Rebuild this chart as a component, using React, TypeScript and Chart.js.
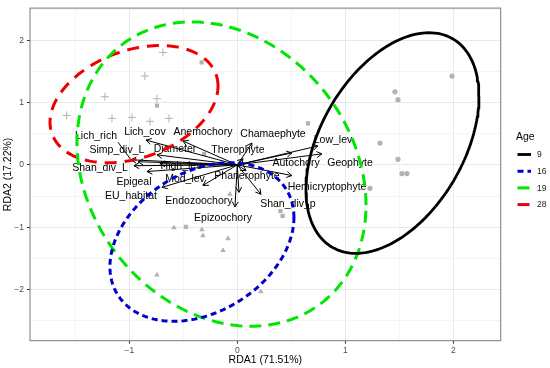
import React, { useEffect, useRef } from "react";
import { Chart, registerables } from "chart.js";

Chart.register(...registerables);

const FONT = "'Liberation Sans', Arial, Helvetica, sans-serif";

// ---- Site scores (points) by age group ----
const age9X = [1.988, 1.46, 1.488, 1.321, 1.488, 1.525, 1.571, 1.229];
const age9Y = [1.426, 1.173, 1.047, 0.351, 0.09, -0.139, -0.139, -0.376];
const age16X = [-0.586, -0.327, -0.318, -0.086, -0.132, -0.744, 0.219, -0.068];
const age16Y = [-1.008, -1.04, -1.135, -1.182, -1.372, -1.767, -2.035, -0.471];
const age19X = [0.655, -0.743, -0.33, -0.475, 0.4, 0.42, -0.306];
const age19Y = [0.667, 0.952, 1.647, -0.993, -0.74, -0.82, 0.177];
const age28X = [-0.688, -0.855, -1.225, -0.744, -1.58, -1.16, -0.975, -0.808, -0.632];
const age28Y = [1.805, 1.426, 1.094, 1.062, 0.794, 0.747, 0.763, 0.699, 0.747];

// ---- Confidence ellipses per age group (centre + shape matrix, data units) ----
const ageLabels = ["9", "16", "19", "28"];
const ellipseCx = [1.437, -0.327, -0.146, -0.956];
const ellipseCy = [0.351, -1.238, -0.147, 0.9755];
const ellipseSxx = [0.6415, 0.7257, 1.79, 0.6049];
const ellipseSyy = [3.1355, 1.62, 5.967, 0.885];
const ellipseSxy = [0.6002, 0.3358, -0.6673, 0.2265];

// ---- Variable arrows (biplot) ----
const varNames = [
  "Lich_rich", "Lich_cov", "Simp_div_L", "Shan_div_L", "Epigeal", "Diameter",
  "Anemochory", "High_lev", "Mod_lev", "EU_habitat", "Phanerophyte", "Endozoochory",
  "Epizoochory", "Shan_div_p", "Hemicryptophyte", "Autochory", "Geophyte", "Low_lev",
  "Chamaephyte", "Therophyte",
];
const varX = [-0.984, -0.845, -0.919, -0.956, -0.836, -0.743, -0.503, -0.716, -0.318, -0.697,
  0.081, 0.016, -0.021, 0.219, 0.506, 0.506, 0.784, 0.747, 0.136, 0.053];
const varY = [0.082, 0.398, 0.051, -0.013, -0.107, 0.161, 0.383, 0.019, -0.329, -0.36,
  -0.092, -0.44, -0.675, -0.471, -0.171, 0.193, 0.177, 0.304, 0.351, 0.098];
const labelX = [-1.308, -0.855, -1.114, -1.271, -0.956, -0.577, -0.318, -0.521, -0.484, -0.984,
  0.09, -0.355, -0.132, 0.469, 0.831, 0.544, 1.044, 0.886, 0.331, 0.006];
const labelY = [0.46, 0.525, 0.24, -0.044, -0.281, 0.256, 0.525, -0.013, -0.234, -0.503,
  -0.187, -0.582, -0.85, -0.629, -0.36, 0.035, 0.035, 0.398, 0.493, 0.24];

const xTitle = "RDA1 (71.51%)";
const yTitle = "RDA2 (17.22%)";
const legendTitle = "Age";

const toPts = (xs: number[], ys: number[]) => xs.map((x, i) => ({ x, y: ys[i] }));

function ellipsePoints(i: number) {
  const a = Math.sqrt(ellipseSxx[i]);
  const c = ellipseSxy[i] / a;
  const b = Math.sqrt(ellipseSyy[i] - c * c);
  const pts = [];
  const n = 160;
  for (let k = 0; k <= n; k++) {
    const t = (k / n) * Math.PI * 2;
    pts.push({ x: ellipseCx[i] + a * Math.cos(t), y: ellipseCy[i] + c * Math.cos(t) + b * Math.sin(t) });
  }
  return pts;
}

function arrowData() {
  const pts: any[] = [];
  varX.forEach((x, i) => {
    pts.push({ x: 0, y: 0 });
    pts.push({ x, y: varY[i] });
    pts.push({ x: NaN, y: NaN });
  });
  return pts;
}

const isInt = (v: number) => Math.abs(v - Math.round(v)) < 1e-9;
const fmt = (v: number) => (v < 0 ? "\u2212" + Math.abs(v) : String(v));

const biplotPlugin = {
  id: "biplot",
  beforeDatasetsDraw(chart: any) {
    const { ctx, chartArea } = chart;
    ctx.save();
    ctx.strokeStyle = "#7a7a7a";
    ctx.lineWidth = 1;
    ctx.strokeRect(chartArea.left, chartArea.top, chartArea.right - chartArea.left, chartArea.bottom - chartArea.top);
    ctx.restore();
  },
  afterDatasetDraw(chart: any, args: any) {
    const ds = chart.data.datasets[args.index];
    if (ds.kind !== "arrows") return;
    const { ctx, chartArea } = chart;
    const xs = chart.scales.x;
    const ys = chart.scales.y;
    ctx.save();
    ctx.beginPath();
    ctx.rect(chartArea.left, chartArea.top, chartArea.right - chartArea.left, chartArea.bottom - chartArea.top);
    ctx.clip();
    const x0 = xs.getPixelForValue(0);
    const y0 = ys.getPixelForValue(0);
    ctx.strokeStyle = "#000";
    ctx.lineWidth = 1;
    const len = 6;
    varX.forEach((vx, i) => {
      const x1 = xs.getPixelForValue(vx);
      const y1 = ys.getPixelForValue(varY[i]);
      const ang = Math.atan2(y1 - y0, x1 - x0);
      ctx.beginPath();
      ctx.moveTo(x1 - len * Math.cos(ang - Math.PI / 6), y1 - len * Math.sin(ang - Math.PI / 6));
      ctx.lineTo(x1, y1);
      ctx.lineTo(x1 - len * Math.cos(ang + Math.PI / 6), y1 - len * Math.sin(ang + Math.PI / 6));
      ctx.stroke();
    });
    ctx.font = `10.5px ${FONT}`;
    ctx.textAlign = "center";
    ctx.textBaseline = "middle";
    ctx.fillStyle = "#000";
    varNames.forEach((name, i) => {
      const lx = xs.getPixelForValue(labelX[i]);
      const ly = ys.getPixelForValue(labelY[i]);
      const tx = xs.getPixelForValue(varX[i]);
      const ty = ys.getPixelForValue(varY[i]);
      const w = ctx.measureText(name).width;
      const hw = w / 2 + 1;
      const hh = 6;
      const cx = Math.max(lx - hw, Math.min(lx + hw, tx));
      const cy = Math.max(ly - hh, Math.min(ly + hh, ty));
      const d = Math.hypot(tx - cx, ty - cy);
      if (d > 14) {
        ctx.beginPath();
        ctx.moveTo(cx, cy);
        ctx.lineTo(tx, ty);
        ctx.stroke();
      }
      ctx.fillText(name, lx, ly);
    });
    ctx.restore();
  },
  afterDraw(chart: any) {
    const { ctx } = chart;
    ctx.save();
    ctx.fillStyle = "#000";
    ctx.textBaseline = "middle";
    ctx.textAlign = "left";
    ctx.font = `10.5px ${FONT}`;
    ctx.fillText(legendTitle, 516, 137.5);
    const ells = chart.data.datasets.filter((d: any) => d.kind === "ellipse");
    ells.forEach((d: any, i: number) => {
      const y = 154.5 + i * 16.7;
      ctx.save();
      ctx.strokeStyle = d.borderColor;
      ctx.lineWidth = d.borderWidth;
      ctx.setLineDash(d.borderDash || []);
      ctx.beginPath();
      ctx.moveTo(517.5, y);
      ctx.lineTo(531, y);
      ctx.stroke();
      ctx.restore();
      ctx.font = `8.5px ${FONT}`;
      ctx.fillStyle = "#1a1a1a";
      ctx.fillText(d.label, 537, y + 0.5);
    });
    ctx.restore();
  },
};

export default function App() {
  const ref = useRef<HTMLCanvasElement | null>(null);
  useEffect(() => {
    if (!ref.current) return;
    const grey = "#b2b2b2";
    const ellStyles = [
      { color: "#000000", dash: [] as number[], width: 2.8 },
      { color: "#0000cd", dash: [6, 4], width: 3 },
      { color: "#00e600", dash: [12, 7], width: 3 },
      { color: "#ee0000", dash: [12, 8], width: 3 },
    ];
    const datasets: any[] = [
      {
        label: "arrows", kind: "arrows", data: arrowData(), showLine: true, spanGaps: false,
        borderColor: "#000", borderWidth: 1, pointRadius: 0, order: 2,
      },
      ...ageLabels.map((lab, i) => ({
        label: lab, kind: "ellipse", data: ellipsePoints(i), showLine: true,
        borderColor: ellStyles[i].color, borderDash: ellStyles[i].dash, borderWidth: ellStyles[i].width,
        borderJoinStyle: "round", pointRadius: 0, fill: false, order: 1,
      })),
      { label: "p9", kind: "pts", data: toPts(age9X, age9Y), pointStyle: "circle", pointRadius: 2.6, backgroundColor: grey, borderColor: grey, borderWidth: 0, order: 3 },
      { label: "p16", kind: "pts", data: toPts(age16X, age16Y), pointStyle: "triangle", pointRadius: 3.2, backgroundColor: grey, borderColor: grey, borderWidth: 0, order: 3 },
      { label: "p19", kind: "pts", data: toPts(age19X, age19Y), pointStyle: "rect", pointRadius: 3, backgroundColor: grey, borderColor: grey, borderWidth: 0, order: 3 },
      { label: "p28", kind: "pts", data: toPts(age28X, age28Y), pointStyle: "cross", pointRadius: 4, backgroundColor: grey, borderColor: grey, borderWidth: 1, order: 3 },
    ];
    const tickFont = { size: 8.5, family: FONT };
    const chart = new Chart(ref.current, {
      type: "scatter",
      data: { datasets },
      plugins: [biplotPlugin],
      options: {
        animation: false,
        responsive: false,
        events: [],
        layout: { padding: { left: 0, top: 3, right: 49.3, bottom: 0 } },
        plugins: { legend: { display: false }, tooltip: { enabled: false } },
        scales: {
          x: {
            type: "linear", min: -1.919, max: 2.439,
            afterFit: (s: any) => { s.height = 27.3; },
            border: { display: false },
            grid: {
              color: (c: any) => (isInt(c.tick.value) ? "#e8e8e8" : "#f4f4f4"),
              lineWidth: 1, tickLength: 3, drawTicks: true,
              tickColor: (c: any) => (isInt(c.tick.value) ? "#333" : "rgba(0,0,0,0)"),
            },
            ticks: {
              stepSize: 0.5, includeBounds: false, autoSkip: false, maxRotation: 0, padding: 2,
              color: "#4d4d4d", font: tickFont,
              callback: (v: any) => (isInt(Number(v)) ? fmt(Number(v)) : ""),
            },
            title: { display: true, text: xTitle, color: "#000", font: { size: 10.5, family: FONT }, padding: { top: 0, bottom: 1.5 } },
          },
          y: {
            type: "linear", min: -2.822, max: 2.517,
            afterFit: (s: any) => { s.width = 30; },
            border: { display: false },
            grid: {
              color: (c: any) => (isInt(c.tick.value) ? "#e8e8e8" : "#f4f4f4"),
              lineWidth: 1, tickLength: 3, drawTicks: true,
              tickColor: (c: any) => (isInt(c.tick.value) ? "#333" : "rgba(0,0,0,0)"),
            },
            ticks: {
              stepSize: 0.5, includeBounds: false, autoSkip: false, padding: 3,
              color: "#4d4d4d", font: tickFont,
              callback: (v: any) => (isInt(Number(v)) ? fmt(Number(v)) : ""),
            },
            title: { display: true, text: yTitle, color: "#000", font: { size: 10.5, family: FONT }, padding: { top: 2, bottom: 0 } },
          },
        },
      } as any,
    });
    return () => chart.destroy();
  }, []);
  return (
    <div style={{ position: "fixed", left: 0, top: 0, width: 550, height: 368, background: "#fff" }}>
      <canvas ref={ref} width={550} height={368} style={{ display: "block" }} />
    </div>
  );
}
